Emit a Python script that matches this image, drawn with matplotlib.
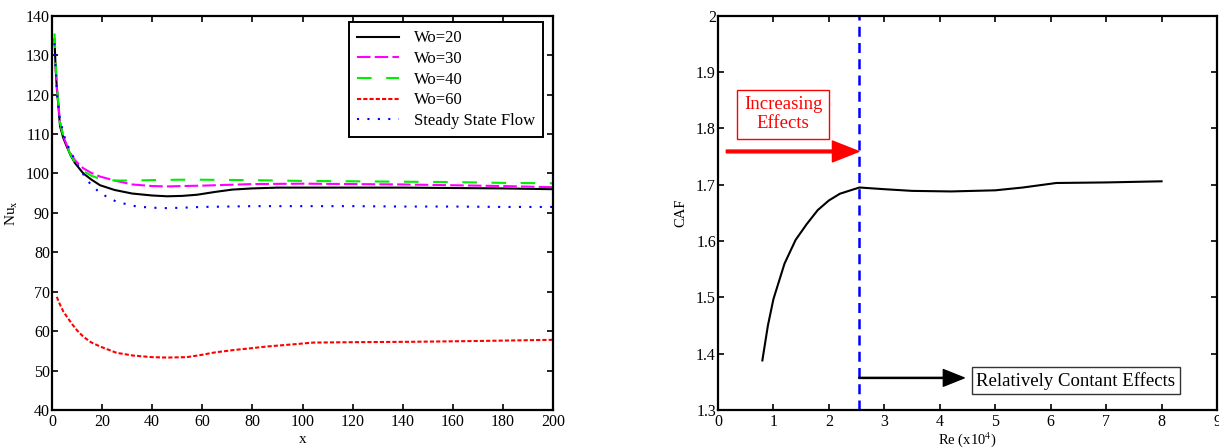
import numpy as np
import matplotlib
matplotlib.use('Agg')
import matplotlib.pyplot as plt
from matplotlib.ticker import FuncFormatter

plt.rcParams['font.family'] = ['Liberation Serif', 'DejaVu Serif']
plt.rcParams['mathtext.fontset'] = 'stix'

# left panel: local Nusselt number along x
x20 = [1, 1.5, 2, 2.5, 3.2, 4.5, 5.9, 7.5, 9.2, 12.5, 15.8, 19.2, 25, 32, 40, 46, 52, 58, 65, 72, 80, 90, 100, 120, 140, 160, 180, 200]
nu20 = [134, 126, 121, 117.5, 112, 109, 106.8, 104.5, 102.6, 100, 98.4, 97, 95.8, 94.9, 94.4, 94.2, 94.3, 94.6, 95.3, 95.9, 96.2, 96.4, 96.4, 96.4, 96.4, 96.3, 96.2, 96.0]

x30 = [1.5, 2, 2.5, 3.2, 4.5, 5.9, 7.5, 9.2, 12.5, 15.8, 19.2, 25, 32, 40, 46, 52, 60, 70, 80, 100, 120, 140, 160, 180, 200]
nu30 = [127, 121.5, 118, 113, 109.5, 107.2, 105, 103.3, 101.3, 100.1, 99.2, 98.2, 97.2, 96.8, 96.7, 96.8, 96.9, 97.1, 97.3, 97.4, 97.3, 97.2, 97.0, 96.8, 96.5]

x40 = [1, 1.5, 2, 2.5, 3.2, 4.5, 5.9, 7.5, 9.2, 12.5, 15.8, 19.2, 25, 32, 40, 50, 60, 80, 100, 120, 140, 160, 180, 200]
nu40 = [135.5, 128, 122, 118, 113, 109.5, 107, 104.6, 102.8, 100.6, 99.4, 98.6, 98.2, 98.2, 98.3, 98.4, 98.4, 98.3, 98.1, 98.0, 97.9, 97.8, 97.6, 97.5]

x60 = [1.9, 3, 4.5, 5.9, 8, 10, 12.5, 15.5, 19.2, 25.8, 32.4, 40, 45.8, 53.8, 59, 65, 72.4, 80, 85.7, 99, 104.3, 120, 144, 170, 200]
nu60 = [68.7, 67, 65, 63.7, 61.8, 60.2, 58.6, 57.2, 56.1, 54.5, 53.8, 53.4, 53.3, 53.4, 53.9, 54.6, 55.2, 55.7, 56.1, 56.8, 57.1, 57.2, 57.3, 57.5, 57.8]

xss = [1, 1.5, 2.1, 3, 4.5, 6, 8.5, 11, 14.5, 19.2, 25.8, 33.8, 40, 45.8, 52, 60, 70, 80, 100, 120, 140, 160, 180, 200]
nuss = [133, 126, 119.5, 114.5, 110.2, 107.5, 104.2, 101.2, 97.9, 95, 92.8, 91.6, 91.3, 91.2, 91.3, 91.5, 91.6, 91.7, 91.7, 91.7, 91.6, 91.6, 91.5, 91.5]

# right panel: CAF vs Re
re = [0.8, 0.9, 1.0, 1.2, 1.4, 1.6, 1.8, 2.0, 2.2, 2.55, 3.0, 3.5, 4.2, 5.0, 5.5, 6.1, 7.0, 8.0]
caf = [1.388, 1.45, 1.497, 1.56, 1.602, 1.63, 1.655, 1.672, 1.684, 1.695, 1.692, 1.689, 1.688, 1.690, 1.695, 1.703, 1.704, 1.706]
re_split = 2.54

fig = plt.figure(figsize=(12.19, 4.48), dpi=100)
ax1 = fig.add_axes([52 / 1219, 38 / 448, 501 / 1219, 394.3 / 448])
ax2 = fig.add_axes([718 / 1219, 38 / 448, 499 / 1219, 394.3 / 448])

for ax in (ax1, ax2):
    for s in ax.spines.values():
        s.set_linewidth(1.6)
    ax.tick_params(direction='in', top=True, right=True, length=4, width=1.2,
                   labelsize=11.5, pad=3)
    ax.tick_params(axis='y', pad=1.5)

lw = 1.5
ax1.plot(x20, nu20, color='black', lw=lw, label='Wo=20')
ax1.plot(x30, nu30, color='#ff00ff', lw=lw, dashes=(6.5, 2), label='Wo=30')
ax1.plot(x40, nu40, color='#00ee00', lw=lw, dashes=(7, 7), label='Wo=40')
ax1.plot(x60, nu60, color='#ff0000', lw=lw, dashes=(2, 1), label='Wo=60')
ax1.plot(xss, nuss, color='#0000ff', lw=lw, dashes=(1, 4), label='Steady State Flow')
ax1.set_xlim(0, 200)
ax1.set_ylim(40, 140)
ax1.set_xticks(np.arange(0, 201, 20))
ax1.set_yticks(np.arange(40, 141, 10))
ax1.set_xlabel('x', fontsize=11, labelpad=2)
ax1.set_ylabel('Nu$_\\mathrm{x}$', fontsize=11, labelpad=4)
leg = ax1.legend(loc='upper right', bbox_to_anchor=(0.98, 0.984), fontsize=12,
                 fancybox=False, framealpha=1, edgecolor='black',
                 handlelength=2.5, handletextpad=0.9, labelspacing=0.28,
                 borderpad=0.5, borderaxespad=0)
leg.get_frame().set_linewidth(1.4)

ax2.plot(re, caf, color='black', lw=1.5)
ax2.axvline(re_split, color='#0000ff', lw=1.8, dashes=(4, 2.5))
ax2.set_xlim(0, 9)
ax2.set_ylim(1.3, 2.0)
ax2.set_xticks(np.arange(0, 10, 1))
ax2.set_yticks(np.arange(1.3, 2.01, 0.1))
ax2.yaxis.set_major_formatter(FuncFormatter(lambda v, p: '%g' % round(v, 2)))
ax2.set_xlabel('Re (x10$^4$)', fontsize=10.5, labelpad=0)
ax2.set_ylabel('CAF', fontsize=10.5, labelpad=6)

ax2.annotate('', xy=(re_split, 1.759), xytext=(0.15, 1.759),
             arrowprops=dict(facecolor='red', edgecolor='red', width=2,
                             headwidth=15, headlength=19, shrink=0))
ax2.text(1.175, 1.825, 'Increasing\nEffects', color='red', fontsize=13.5,
         ha='center', va='center', linespacing=1.15,
         bbox=dict(boxstyle='square,pad=0.35', facecolor='white', edgecolor='red', linewidth=1))

ax2.annotate('', xy=(4.44, 1.357), xytext=(re_split, 1.357),
             arrowprops=dict(facecolor='black', edgecolor='black', width=0.8,
                             headwidth=12, headlength=15, shrink=0))
ax2.text(6.455, 1.352, 'Relatively Contant Effects', color='black', fontsize=13.5,
         ha='center', va='center',
         bbox=dict(boxstyle='square,pad=0.25', facecolor='white', edgecolor='#333333', linewidth=1))

fig.savefig('out.png', dpi=100)
